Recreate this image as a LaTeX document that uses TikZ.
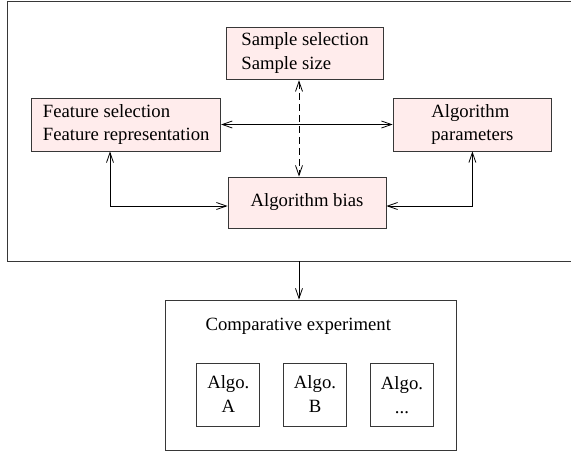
\documentclass[tikz,border=0pt]{standalone}
\usepackage{fontspec}
\setmainfont{Liberation Serif}
\usetikzlibrary{arrows.meta}
\definecolor{boxpink}{RGB}{255,236,236}
\definecolor{edgegray}{RGB}{55,55,55}

\begin{document}
\begin{tikzpicture}
 [
  x=1pt, y=-1pt,
  >={Straight Barb[length=10pt,width=7pt]},
  line width=0.8pt,
  font={\fontsize{18.7}{24}\selectfont},
  factor/.style = {draw=edgegray, fill=boxpink, align=left, inner sep=0pt},
  algo/.style   = {draw=edgegray, minimum width=63pt, minimum height=63pt, align=center, inner sep=0pt},
 ]
 \useasboundingbox (0,0) rectangle (571,453);

 % the factors
 \node (sample) at (305,53.5) [factor, minimum width=157.7pt, minimum height=52.7pt] {Sample selection\\Sample size};
 \node (feature) at (126.2,124.5) [factor, minimum width=189pt, minimum height=53pt] {Feature selection\\Feature representation};
 \node (params) at (472.4,124.5) [factor, minimum width=158.7pt, minimum height=53pt] {Algorithm\\parameters};
 \node (bias) at (307,202.5) [factor, minimum width=158pt, minimum height=51pt] {Algorithm bias};

 % the frame round them
 \draw[edgegray] (571,1) -| (7.5,261) -- (571,261);
 \coordinate (mid) at (299,0);
 \coordinate (leftlane) at (110,0);
 \coordinate (lowlane) at (0,206);
 \coordinate (exit) at (299,261);

 \draw[<->] (feature.east) -- (params.west);
 \draw[<->, dash pattern=on 7pt off 4pt] (sample.south -| mid) -- (bias.north -| mid);
 \draw[<->] (feature.south -| leftlane) |- (bias.west |- lowlane);
 \draw[<->] (params.south) |- (bias.east |- lowlane);

 % the experiment
 \node (lower) at (311.2,375.3) [draw=edgegray, minimum width=291pt, minimum height=150.7pt] {};
 \node (title) at (298.3,326.7) {Comparative experiment};
 \node (algoA) at (228.3,394.5) [algo] {Algo.\\A};
 \node (algoB) at (315,394.5) [algo] {Algo.\\B};
 \node (algoC) at (402,395) [algo] {Algo.\\...};

 \draw[->] (exit) -- (lower.north -| exit);
\end{tikzpicture}
\end{document}
